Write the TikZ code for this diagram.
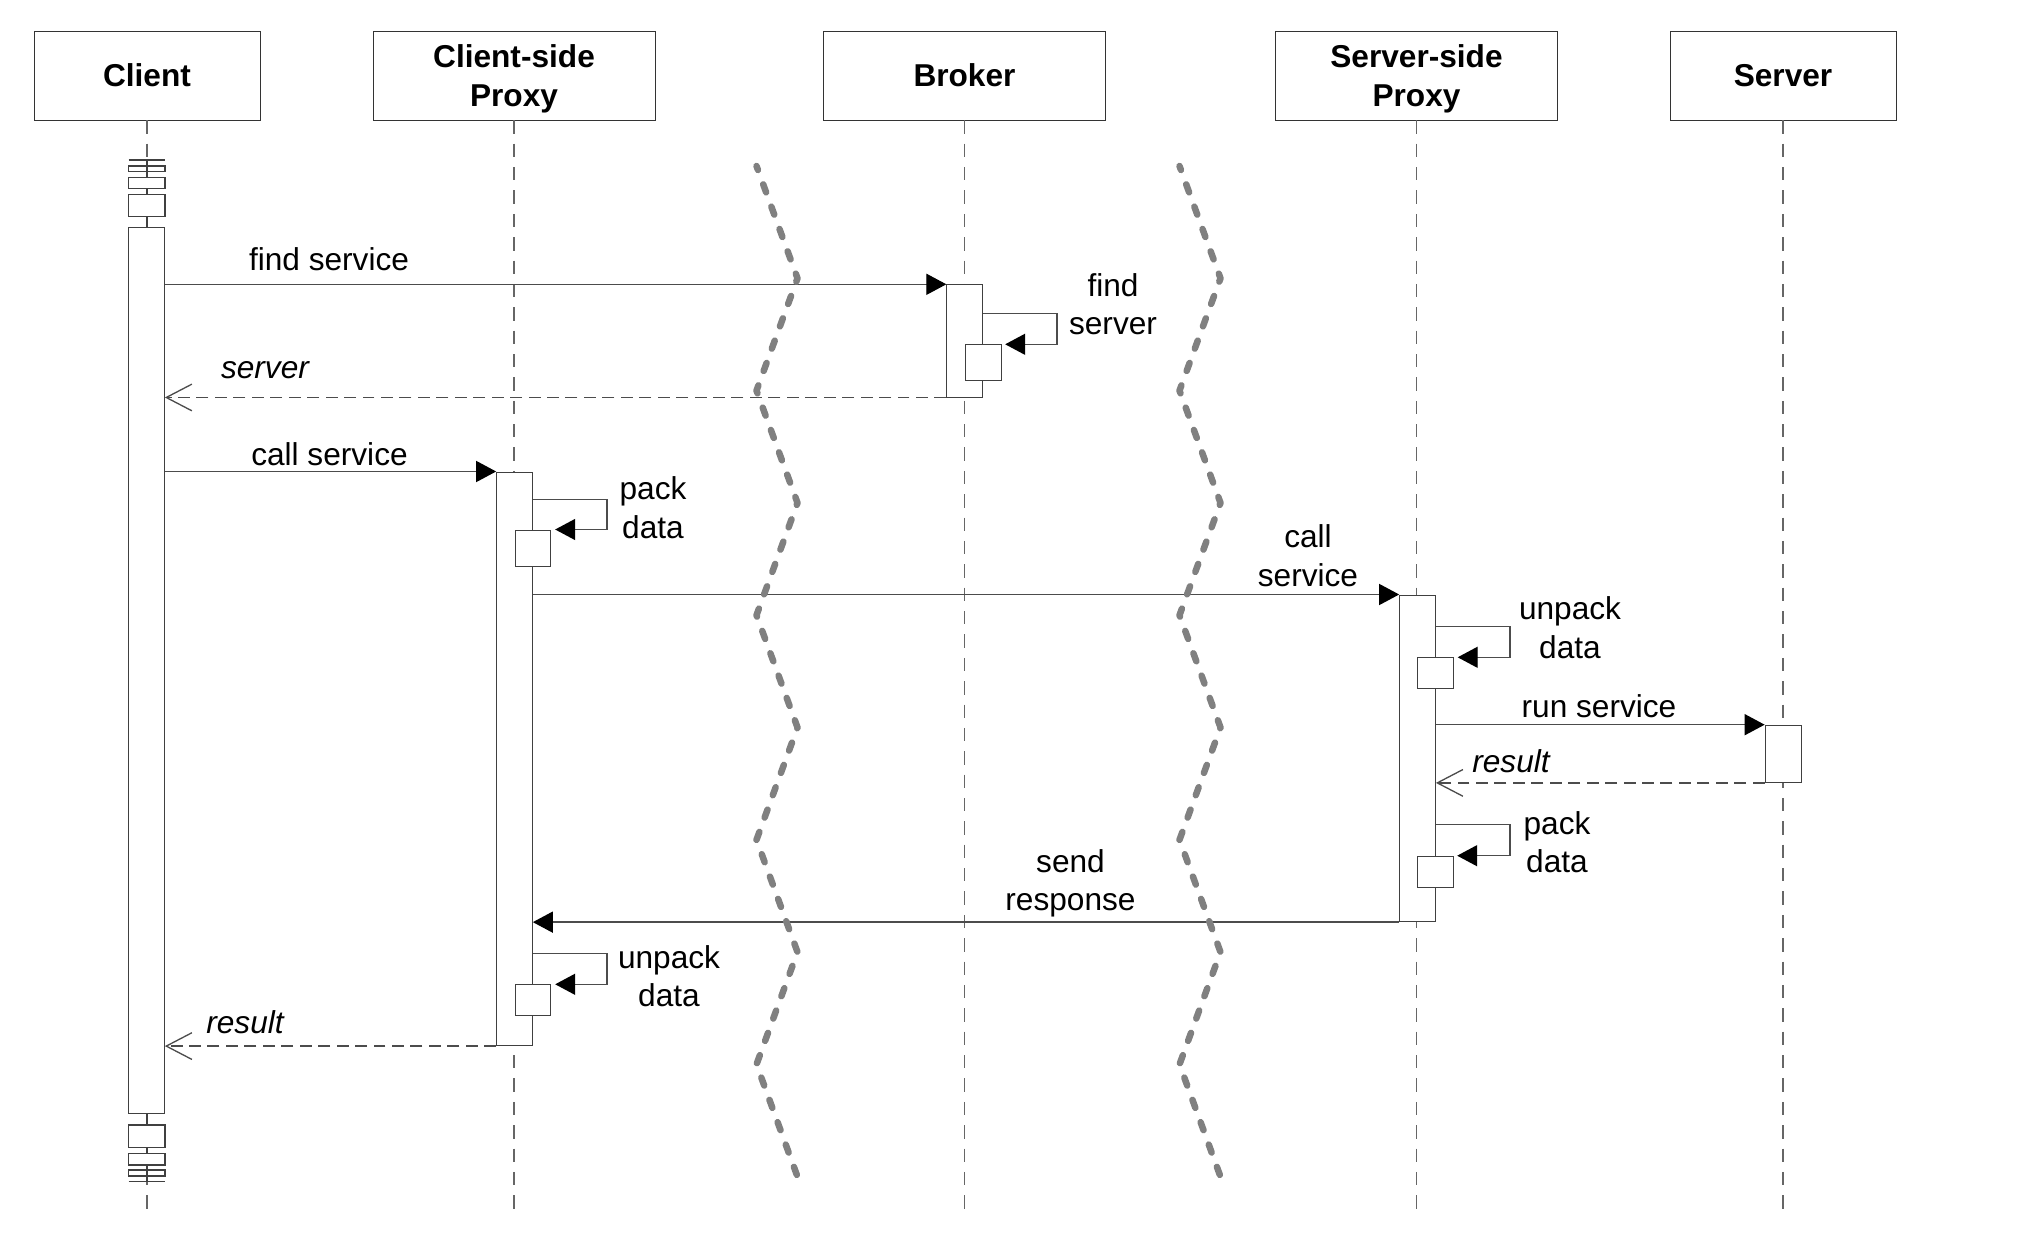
\documentclass[tikz,border=0pt]{standalone}
\usepackage{fontspec}
\setmainfont{Liberation Sans}
\usetikzlibrary{arrows.meta,calc,positioning}
\newcommand{\msgfont}{\fontsize{18}{21.8}\selectfont}
\tikzstyle{head} = [draw=black!80, rectangle, minimum height=1.78cm, minimum width=5.64cm, inner sep=0pt, align=center, text depth=0pt, font=\msgfont\bfseries]
\tikzstyle{act} = [draw=black!75, rectangle, fill=white, minimum width=0.72cm, inner sep=0pt, anchor=north]
\tikzstyle{selfbox} = [draw=black!75, rectangle, fill=white, minimum width=0.72cm, minimum height=0.62cm, inner sep=0pt, anchor=north west]
\tikzstyle{lifeline} = [draw=black!60, line width=0.7pt, dash pattern=on 7.6pt off 5.7pt]
\tikzstyle{call} = [draw=black!70, line width=0.75pt, -{Triangle[length=11.4pt,width=12pt,black]}]
\tikzstyle{reply} = [draw=black!70, line width=0.75pt, dash pattern=on 6.8pt off 3.7pt, -{Straight Barb[length=14.6pt,width=15.2pt]}]
\tikzstyle{cut} = [draw=black!50, line width=3.7pt, line cap=round, line join=round, dash pattern=on 4.84pt off 8.69pt, dash phase=2.42pt]
\tikzstyle{lbl} = [inner sep=0pt, anchor=base, align=center, font=\msgfont]

\begin{document}
\begin{tikzpicture}[x=0.02cm, y=-0.02cm]
\useasboundingbox (0,0) rectangle (2040,1240);

% lifeline heads
\node [head, minimum width=4.52cm] (client) at (147,75.5) {Client};
\node [head] (cproxy) at (514,75.5) {Client-side\\Proxy};
\node [head] (broker) at (964.5,75.5) {Broker};
\node [head] (sproxy) at (1416.5,75.5) {Server-side\\Proxy};
\node [head, minimum width=4.52cm] (server) at (1783,75.5) {Server};

\coordinate (bottom) at (0,1212);
\draw [lifeline] (client.south) -- (client.south |- bottom);
\draw [lifeline] (cproxy.south) -- (cproxy.south |- bottom);
\draw [lifeline] (broker.south) -- (broker.south |- bottom);
\draw [lifeline] (sproxy.south) -- (sproxy.south |- bottom);
\draw [lifeline] (server.south) -- (server.south |- bottom);

% client continues before and after
\begin{scope}[draw=black!75, line width=0.75pt]
\draw (147,160) -- (147,226.7);
\draw (128.6,160) -- (165,160);
\draw (128.6,166) rectangle (165,171.7);
\draw [fill=white] (128.6,177.3) rectangle (165,188.3);
\draw [fill=white] (128.6,194.3) rectangle (165,216.7);
\draw (147,1113.3) -- (147,1181.7);
\draw [fill=white] (128.6,1125) rectangle (165,1147.7);
\draw [fill=white] (128.6,1153.3) rectangle (165,1165);
\draw (128.6,1170) rectangle (165,1176);
\draw (128.6,1181.7) -- (165,1181.7);
\end{scope}

% activations
\node [act, minimum height=17.73cm] (cact) at (146.5,226.7) {};
\node [act, minimum height=2.25cm] (bact) at (964.7,284.3) {};
\node [act, minimum height=11.48cm] (pact) at (514.5,471.5) {};
\node [act, minimum height=6.54cm] (sact) at (1417.5,594.5) {};
\node [act, minimum height=1.15cm] (vact) at (1783,724.7) {};

\node [selfbox, minimum height=0.72cm] (fsbox) at (964.5,344.3) {};
\node [selfbox, minimum height=0.74cm] (pkbox) at (514.5,529.5) {};
\node [selfbox] (upbox) at (514.5,984.3) {};
\node [selfbox] (supbox) at (1417,657.3) {};
\node [selfbox] (spkbox) at (1416.5,855.7) {};

% messages
\draw [call] (cact.east |- bact.north) -- (bact.north west);
\draw [call] ($(bact.east |- fsbox.north)+(0,-31)$) -- ++(74,0) |- ([xshift=0.08cm]fsbox.north east);
\draw [reply] (bact.south west) -- (cact.east |- bact.south);
\draw [call] (cact.east |- pact.north) -- (pact.north west);
\draw [call] ($(pact.east |- pkbox.north)+(0,-30)$) -- ++(74,0) |- ([xshift=0.08cm]pkbox.north east);
\draw [call] (pact.east |- sact.north) -- (sact.north west);
\draw [call] ($(sact.east |- supbox.north)+(0,-31)$) -- ++(74,0) |- ([xshift=0.08cm]supbox.north east);
\draw [call] (sact.east |- vact.north) -- (vact.north west);
\draw [reply] (vact.south west) -- (sact.east |- vact.south);
\draw [call] ($(sact.east |- spkbox.north)+(0,-31)$) -- ++(74,0) |- ([xshift=0.08cm]spkbox.north east);
\draw [call] (sact.south west) -- (pact.east |- sact.south);
\draw [call] ($(pact.east |- upbox.north)+(0,-31)$) -- ++(74,0) |- ([xshift=0.08cm]upbox.north east);
\draw [reply] (pact.south west) -- (cact.east |- pact.south);

\node [lbl] (findsvc) at (329,271) {find service};
\node [lbl] (srvret) at (265,378) {\itshape server};
\node [lbl] (findsrv) at (1113,335) {find\\server};
\node [lbl] (callsvc) at (329.5,465) {call service};
\node [lbl] (packc) at (653,538.3) {pack\\data};
\node [lbl] (callsvc2) at (1308,586.3) {call\\service};
\node [lbl] (unpacks) at (1570,658.3) {unpack\\data};
\node [lbl] (runsvc) at (1599,717.7) {run service};
\node [lbl] (resret) at (1511,772.7) {\itshape result};
\node [lbl] (packs) at (1557,872.3) {pack\\data};
\node [lbl] (sendresp) at (1070.5,910.3) {send\\response};
\node [lbl] (unpackc) at (669,1006.7) {unpack\\data};
\node [lbl] (resret2) at (245,1033) {\itshape result};

% network cuts
\draw [cut] (756.5,166) -- (797.5,278.3) -- (756.5,390.6) -- (797.5,502.9) -- (756.5,615.2) -- (797.5,727.5) -- (756.5,839.8) -- (797.5,952.1) -- (756.5,1064.4) -- (797.5,1176.7);
\draw [cut] (1179.5,166) -- (1220.5,278.3) -- (1179.5,390.6) -- (1220.5,502.9) -- (1179.5,615.2) -- (1220.5,727.5) -- (1179.5,839.8) -- (1220.5,952.1) -- (1179.5,1064.4) -- (1220.5,1176.7);

\end{tikzpicture}
\end{document}
